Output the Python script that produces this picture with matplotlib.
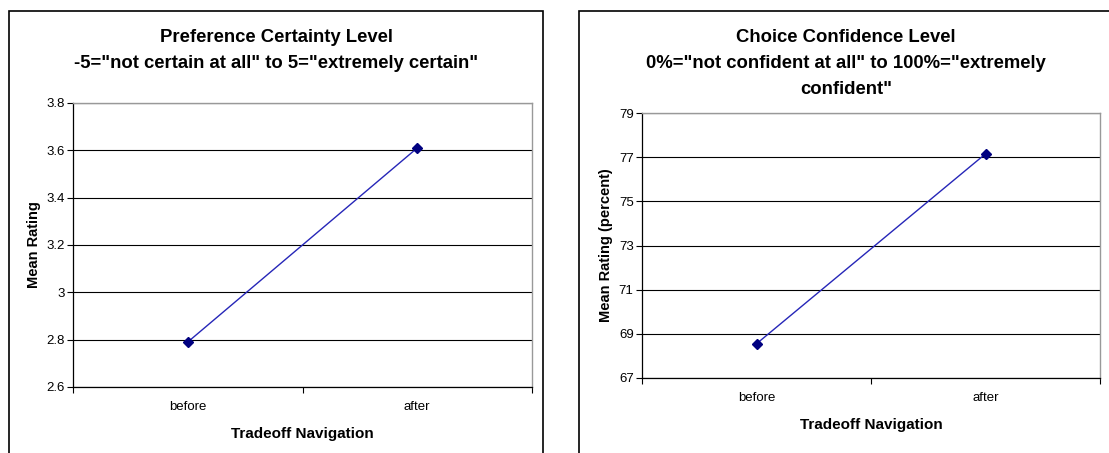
import numpy as np
import matplotlib
matplotlib.use("Agg")
import matplotlib.pyplot as plt
from matplotlib.patches import Rectangle

plt.rcParams['font.family'] = ['Liberation Sans', 'DejaVu Sans']

# Data
categories = ["before", "after"]
certainty_values = [2.79, 3.61]
confidence_values = [68.55, 77.15]

certainty_ticks = [2.6, 2.8, 3.0, 3.2, 3.4, 3.6, 3.8]
certainty_ticklabels = ["2.6", "2.8", "3", "3.2", "3.4", "3.6", "3.8"]
confidence_ticks = [67, 69, 71, 73, 75, 77, 79]

W, H = 1109, 453


def px_box(x0, y0, x1, y1):
    """Pixel box (top-left origin) -> figure fraction [l, b, w, h]."""
    return [x0 / W, (H - y1) / H, (x1 - x0) / W, (y1 - y0) / H]


def style_axes(ax, values, ticks, ticklabels, ylabel):
    x = np.arange(len(categories)) + 0.5
    ax.plot(x, values, color='#2626b8', linewidth=1.0, zorder=3)
    ax.plot(x, values, linestyle='none', marker='D', markersize=5,
            color='#000080', zorder=4)

    ax.set_xlim(0, len(categories))
    ax.set_ylim(ticks[0], ticks[-1])
    ax.set_yticks(ticks)
    ax.set_yticklabels(ticklabels, fontsize=9.5)
    ax.set_xticks(np.arange(len(categories) + 1))
    ax.set_xticklabels([])
    ax.set_xticks(x, minor=True)
    ax.set_xticklabels(categories, minor=True, fontsize=9.5)
    ax.tick_params(axis='x', which='minor', length=0, pad=10)
    ax.tick_params(axis='x', which='major', length=4, width=0.8, direction='out')
    ax.tick_params(axis='y', length=4, width=0.8, direction='out', pad=2)

    # gridlines
    ax.yaxis.grid(True, color='black', linewidth=0.8)
    ax.set_axisbelow(True)

    for s in ['top', 'right']:
        ax.spines[s].set_color('#999999')
        ax.spines[s].set_linewidth(1.0)
    for s in ['left', 'bottom']:
        ax.spines[s].set_color('black')
        ax.spines[s].set_linewidth(0.9)

    ax.set_xlabel("Tradeoff Navigation", fontsize=11, fontweight='bold', labelpad=10)
    ax.set_ylabel(ylabel, fontsize=10.5, fontweight='bold')


fig = plt.figure(figsize=(W / 100, H / 100), dpi=100)

# outer chart borders
fig.patches.append(Rectangle((9 / W, -0.2), (543 - 9) / W, (H - 11) / H + 0.2,
                             transform=fig.transFigure, fill=False,
                             edgecolor='black', linewidth=1.2, clip_on=False))
fig.patches.append(Rectangle((579 / W, -0.2), 0.6, (H - 11) / H + 0.2,
                             transform=fig.transFigure, fill=False,
                             edgecolor='black', linewidth=1.2, clip_on=False))

ax1 = fig.add_axes(px_box(73, 103, 532, 387))
style_axes(ax1, certainty_values, certainty_ticks, certainty_ticklabels, "Mean Rating")

ax2 = fig.add_axes(px_box(642, 113, 1100, 378))
style_axes(ax2, confidence_values, confidence_ticks,
           [str(t) for t in confidence_ticks], "Mean Rating (percent)")

# titles
fig.text(276 / W, 1 - 38 / H, "Preference Certainty Level", ha='center', va='center',
         fontsize=13.3, fontweight='bold')
fig.text(276 / W, 1 - 64 / H, '-5="not certain at all" to 5="extremely certain"',
         ha='center', va='center', fontsize=13.3, fontweight='bold')

fig.text(846 / W, 1 - 37 / H, "Choice Confidence Level", ha='center', va='center',
         fontsize=13.3, fontweight='bold')
fig.text(846 / W, 1 - 63 / H, '0%="not confident at all" to 100%="extremely',
         ha='center', va='center', fontsize=13.3, fontweight='bold')
fig.text(846 / W, 1 - 89 / H, 'confident"', ha='center', va='center',
         fontsize=13.3, fontweight='bold')

fig.savefig("out.png", dpi=100)
